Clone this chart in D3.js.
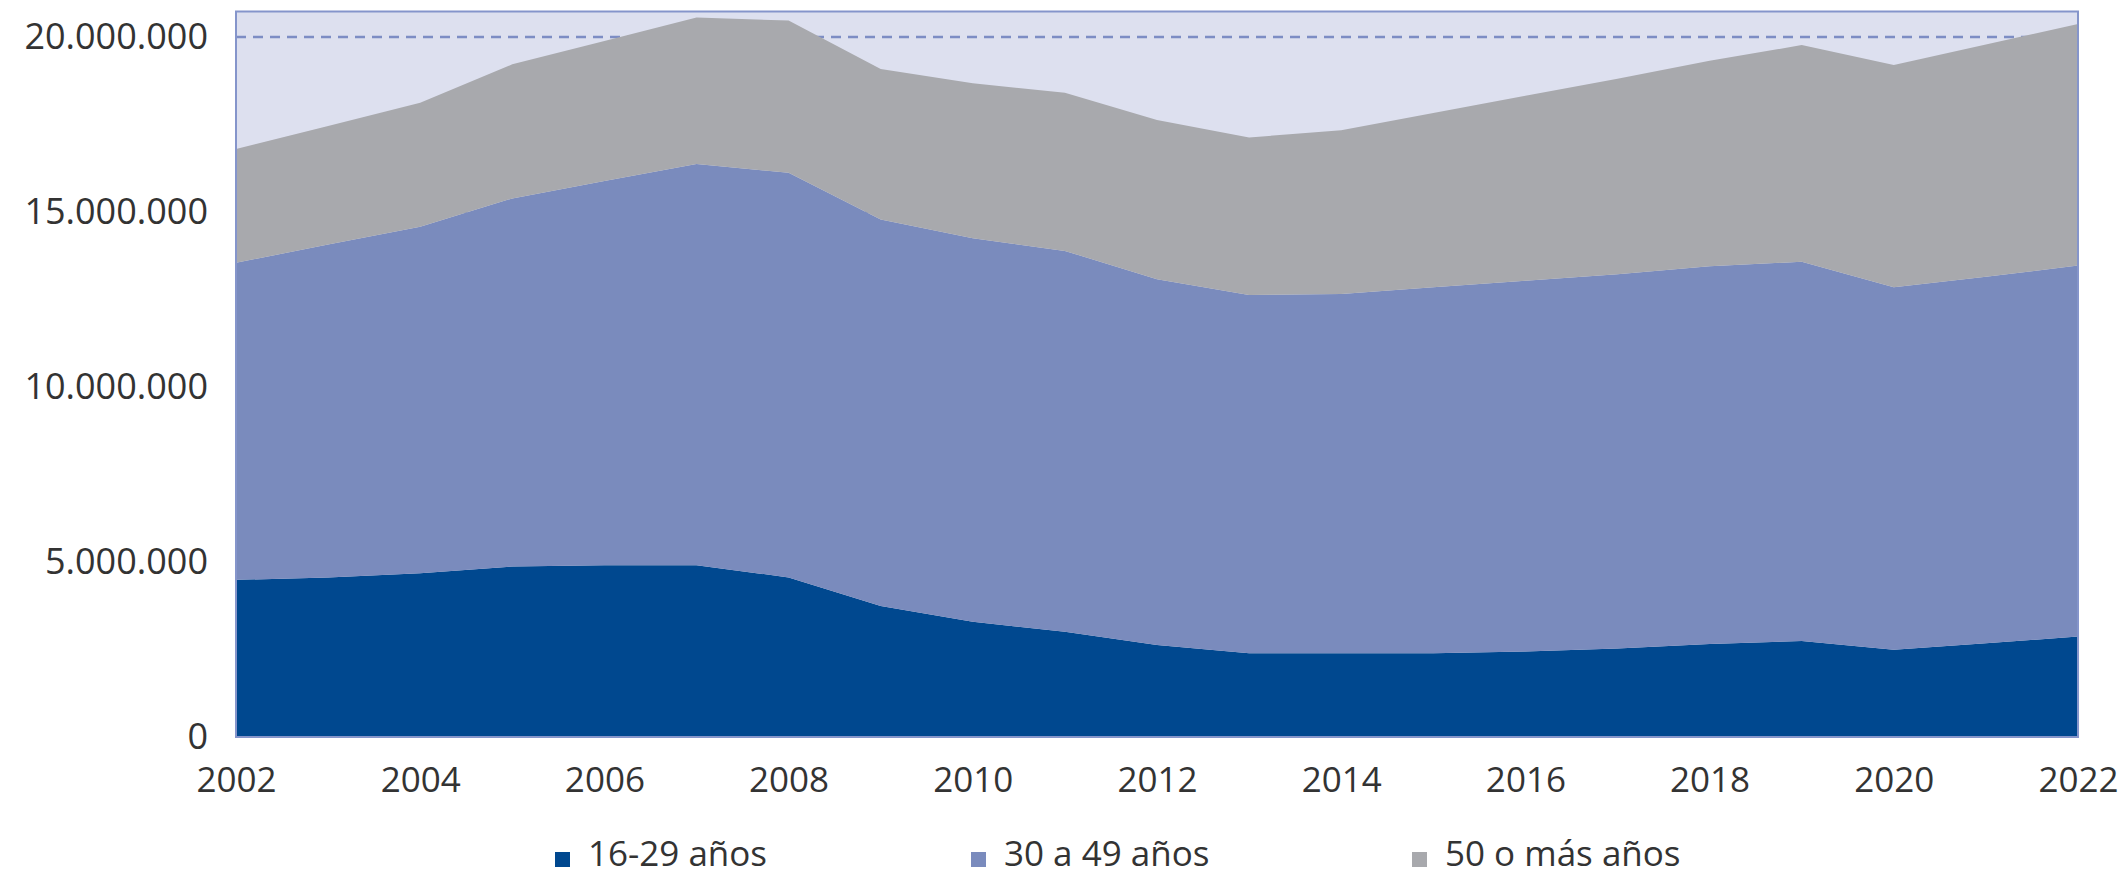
<!DOCTYPE html>
<html>
<head>
<meta charset="utf-8">
<script src="https://cdn.jsdelivr.net/npm/d3@7"></script>
<style>
  body { margin: 0; background: #fff; }
  text { font-family: "Open Sans", sans-serif; fill: #333; }
</style>
</head>
<body>
<script>
// data (people)
const years = [2002, 2003, 2004, 2005, 2006, 2007, 2008, 2009, 2010, 2011, 2012,
               2013, 2014, 2015, 2016, 2017, 2018, 2019, 2020, 2021, 2022]
const young = [4490000, 4560000, 4680000, 4870000, 4910000, 4910000, 4560000, 3740000, 3290000, 3010000, 2630000,
               2390000, 2390000, 2390000, 2440000, 2530000, 2660000, 2740000, 2490000, 2680000, 2870000]
const middle = [9060000, 9510000, 9900000, 10520000, 10980000, 11460000, 11560000, 11050000, 10960000, 10880000, 10450000,
                10240000, 10270000, 10460000, 10600000, 10690000, 10790000, 10840000, 10360000, 10470000, 10600000]
const older = [3250000, 3390000, 3540000, 3830000, 4000000, 4190000, 4350000, 4300000, 4430000, 4520000, 4550000,
               4500000, 4680000, 4980000, 5280000, 5590000, 5870000, 6190000, 6350000, 6640000, 6900000]
const seriesNames = ["16-29 años", "30 a 49 años", "50 o más años"]
const yTicks = [0, 5000000, 10000000, 15000000, 20000000]
const xTicks = [2002, 2004, 2006, 2008, 2010, 2012, 2014, 2016, 2018, 2020, 2022]

const colors = ["#00488f", "#7a8bbd", "#a8a9ad"]

const w = 2123
const h = 878
const plotLeft = 236, plotRight = 2078, plotTop = 11.5, plotBottom = 737

const table = years.map((y, i) => ({ year: y, [seriesNames[0]]: young[i], [seriesNames[1]]: middle[i], [seriesNames[2]]: older[i] }))
const stacked = d3.stack().keys(seriesNames)(table)

const svg = d3.select("body").append("svg")
  .attr("width", w)
  .attr("height", h)

const xScale = d3.scaleLinear().domain([2002, 2022]).range([plotLeft, plotRight])
const yScale = d3.scaleLinear().domain([0, 20730000]).range([plotBottom, plotTop])

const es = d3.formatLocale({ decimal: ",", thousands: ".", grouping: [3], currency: ["", " €"] })
const fmt = es.format(",d")

// plot background
svg.append("rect")
  .attr("x", plotLeft).attr("y", plotTop)
  .attr("width", plotRight - plotLeft).attr("height", plotBottom - plotTop)
  .attr("fill", "#dde0ef")

// grid (only the 20M line shows above the areas)
svg.append("g")
  .selectAll("line")
  .data(yTicks.filter(d => d > 0))
  .enter()
  .append("line")
  .attr("x1", plotLeft).attr("x2", plotRight)
  .attr("y1", d => yScale(d)).attr("y2", d => yScale(d))
  .attr("stroke", "#7d8dc4")
  .attr("stroke-width", 2.5)
  .attr("stroke-dasharray", "10,7")

// areas
const area = d3.area()
  .x(d => xScale(d.data.year))
  .y0(d => yScale(d[0]))
  .y1(d => yScale(d[1]))

svg.append("g")
  .selectAll("path")
  .data(stacked)
  .enter()
  .append("path")
  .attr("d", area)
  .attr("fill", (d, i) => colors[i])

// border
svg.append("rect")
  .attr("x", plotLeft).attr("y", plotTop)
  .attr("width", plotRight - plotLeft).attr("height", plotBottom - plotTop)
  .attr("fill", "none")
  .attr("stroke", "#8595cb")
  .attr("stroke-width", 2)

// axes
const yAxis = d3.axisLeft(yScale).tickValues(yTicks).tickFormat(fmt).tickSize(0).tickPadding(28)
const gy = svg.append("g").attr("transform", "translate(" + plotLeft + ",0)").call(yAxis)
gy.select(".domain").remove()
gy.selectAll("text").style("font-size", "36px").attr("fill", "#333").style("font-family", "'Open Sans', sans-serif")

const xAxis = d3.axisBottom(xScale).tickValues(xTicks).tickFormat(d => d).tickSize(0).tickPadding(30)
const gx = svg.append("g").attr("transform", "translate(0," + plotBottom + ")").call(xAxis)
gx.select(".domain").remove()
gx.selectAll("text").style("font-size", "35px").attr("fill", "#333").style("font-family", "'Open Sans', sans-serif")

// legend
const legendX = [555, 971, 1412]
const legend = svg.append("g")
  .selectAll("g")
  .data(seriesNames)
  .enter()
  .append("g")
  .attr("transform", (d, i) => "translate(" + legendX[i] + ",866)")

legend.append("rect")
  .attr("x", 0).attr("y", -14)
  .attr("width", 15).attr("height", 15)
  .attr("fill", (d, i) => colors[i])

legend.append("text")
  .attr("x", 33).attr("y", 0)
  .style("font-size", "35px")
  .text(d => d)
</script>
</body>
</html>
